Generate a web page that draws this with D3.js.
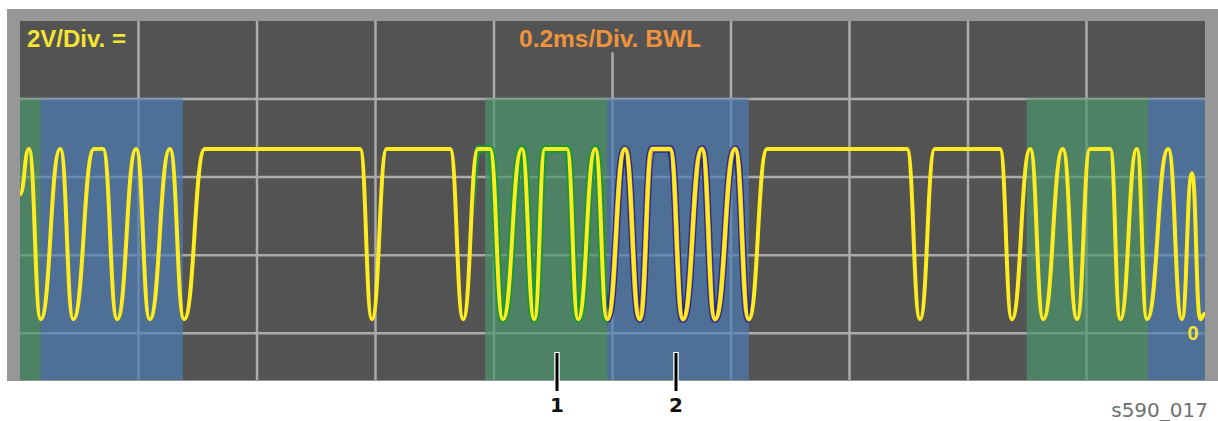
<!DOCTYPE html>
<html>
<head>
<meta charset="utf-8">
<script src="https://cdn.jsdelivr.net/npm/d3@7"></script>
<style>
  body { margin: 0; background: #fff; }
  svg { display: block; }
</style>
</head>
<body>
<svg id="scope" width="1218" height="421"></svg>
<script>
// signal key points, time in ms and level in volts (2V/Div, 0.2ms/Div)
var times = [0, 0.015, 0.035, 0.068, 0.090, 0.125, 0.140, 0.164, 0.196, 0.219,
  0.253, 0.277, 0.312, 0.574, 0.594, 0.619, 0.726, 0.748, 0.773, 0.793,
  0.815, 0.847, 0.868, 0.886, 0.923, 0.942, 0.971, 0.991, 1.021, 1.046,
  1.067, 1.097, 1.119, 1.151, 1.173, 1.207, 1.230, 1.261, 1.497, 1.519,
  1.544, 1.654, 1.674, 1.705, 1.727, 1.760, 1.784, 1.806, 1.840, 1.857,
  1.885, 1.902, 1.938, 1.961, 1.978, 1.992, 2.0]
var volts = [3.56, 4.72, 0.36, 4.72, 0.36, 4.72, 4.72, 0.36, 4.72, 0.36,
  4.72, 0.36, 4.72, 4.72, 0.36, 4.72, 4.72, 0.36, 4.72, 4.72,
  0.36, 4.72, 0.36, 4.72, 4.72, 0.36, 4.72, 0.36, 4.72, 0.36,
  4.72, 4.72, 0.36, 4.72, 0.36, 4.72, 0.36, 4.72, 4.72, 0.36,
  4.72, 4.72, 0.36, 4.72, 0.36, 4.72, 0.36, 4.72, 4.72, 0.36,
  4.72, 0.36, 4.72, 0.36, 4.1, 0.36, 0.5]

// coloured background bands (ms)
var bandStarts = [0, 0.035, 0.785, 0.991, 1.699, 1.904]
var bandEnds = [0.035, 0.275, 0.991, 1.230, 1.904, 2.0]
var bandKinds = ['green', 'blue', 'green', 'blue', 'green', 'blue']

// highlighted parts of the trace (ms)
var markStarts = [0.768, 0.991]
var markEnds = [0.991, 1.234]
var markKinds = ['green', 'blue']

// numbered callouts
var calloutLabels = ['1', '2']
var calloutTimes = [0.906, 1.108]

var timeTicks = [0.2, 0.4, 0.6, 0.8, 1.0, 1.2, 1.4, 1.6, 1.8]
var voltTicks = [0, 2, 4, 6]

var svg = d3.select('#scope')

var x = d3.scaleLinear().domain([0, 2]).range([20, 1205])
var y = d3.scaleLinear().domain([-1.2, 8]).range([380, 21])

var bandFill = { green: 'rgb(76,153,108)', blue: 'rgb(79,125,179)' }
var markColor = { green: '#17983a', blue: '#252d88' }

// frame and screen
svg.append('rect').attr('x', 7).attr('y', 9).attr('width', 1211).attr('height', 372).style('fill', '#979797')
svg.append('rect').attr('x', x(0)).attr('y', y(8))
  .attr('width', x(2) - x(0)).attr('height', y(-1.2) - y(8))
  .style('fill', '#535353')

// grid
svg.selectAll('.vgrid')
  .data(timeTicks)
  .enter()
  .append('line')
  .attr('class', 'vgrid')
  .attr('x1', function(d){ return x(d) })
  .attr('x2', function(d){ return x(d) })
  .attr('y1', function(d){ return d == 1.0 ? y(7.2) : y(8) })
  .attr('y2', y(-1.2))
  .style('stroke', '#ababab')
  .style('stroke-width', 2.5)

svg.selectAll('.hgrid')
  .data(voltTicks)
  .enter()
  .append('line')
  .attr('class', 'hgrid')
  .attr('x1', x(0))
  .attr('x2', x(2))
  .attr('y1', function(d){ return y(d) })
  .attr('y2', function(d){ return y(d) })
  .style('stroke', '#ababab')
  .style('stroke-width', 2.5)

// bands over the grid, a bit see-through so grid lines get tinted
svg.selectAll('.band')
  .data(bandStarts)
  .enter()
  .append('rect')
  .attr('class', 'band')
  .attr('x', function(d){ return x(d) })
  .attr('width', function(d, i){ return x(bandEnds[i]) - x(d) })
  .attr('y', y(6) - 0.5)
  .attr('height', y(-1.2) - y(6) + 0.5)
  .style('fill', function(d, i){ return bandFill[bandKinds[i]] })
  .style('opacity', 0.7)

// header texts
svg.append('text')
  .attr('x', 27).attr('y', 47)
  .text('2V/Div. =')
  .style('font-family', 'Liberation Sans, Arial, sans-serif')
  .style('font-weight', 'bold')
  .style('font-size', '24px')
  .style('fill', '#f4e532')

svg.append('text')
  .attr('x', 519).attr('y', 47)
  .text('0.2ms/Div. BWL')
  .style('font-family', 'Liberation Sans, Arial, sans-serif')
  .style('font-weight', 'bold')
  .style('font-size', '24.5px')
  .style('fill', '#f0933a')

// the trace
var points = times.map(function(t, i){ return [t, volts[i]] })
var line = d3.line()
  .x(function(d){ return x(d[0]) })
  .y(function(d){ return y(d[1]) })
  .curve(d3.curveBumpX)

var defs = svg.append('defs')
defs.append('clipPath').attr('id', 'screen')
  .append('rect').attr('x', x(0)).attr('y', y(8))
  .attr('width', x(2) - x(0)).attr('height', y(-1.2) - y(8))

markStarts.forEach(function(s, i){
  defs.append('clipPath').attr('id', 'mark' + i)
    .append('rect').attr('x', x(s)).attr('y', 0)
    .attr('width', x(markEnds[i]) - x(s)).attr('height', 421)
  svg.append('path')
    .attr('d', line(points))
    .attr('clip-path', 'url(#mark' + i + ')')
    .style('fill', 'none')
    .style('stroke', markColor[markKinds[i]])
    .style('stroke-width', 7.5)
  if (markKinds[i] == 'blue') {
    svg.append('path')
      .attr('d', line(points))
      .attr('clip-path', 'url(#mark' + i + ')')
      .style('fill', 'none')
      .style('stroke', '#d9856a')
      .style('stroke-width', 5)
  }
})

svg.append('path')
  .attr('d', line(points))
  .attr('clip-path', 'url(#screen)')
  .style('fill', 'none')
  .style('stroke', '#ffec1e')
  .style('stroke-width', 4)

// ground marker
svg.append('text')
  .attr('x', 1193).attr('y', y(0) + 7)
  .attr('text-anchor', 'middle')
  .text('0')
  .style('font-family', 'Liberation Sans, Arial, sans-serif')
  .style('font-weight', 'bold')
  .style('font-size', '20px')
  .style('fill', '#f4e532')

// callouts
var c = svg.selectAll('.callout')
  .data(calloutTimes)
  .enter()
  .append('g')
  .attr('class', 'callout')
  .attr('transform', function(d){ return 'translate(' + Math.round(x(d)) + ',0)' })

c.append('line')
  .attr('y1', 352).attr('y2', 391)
  .style('stroke', '#fff')
  .style('stroke-width', 5.5)
c.append('line')
  .attr('y1', 353).attr('y2', 391)
  .style('stroke', '#000')
  .style('stroke-width', 3)
c.append('text')
  .attr('y', 412)
  .attr('text-anchor', 'middle')
  .text(function(d, i){ return calloutLabels[i] })
  .style('font-family', 'DejaVu Sans, Verdana, sans-serif')
  .style('font-weight', 'bold')
  .style('font-size', '20px')
  .style('fill', '#111')

svg.append('text')
  .attr('x', 1208).attr('y', 417)
  .attr('text-anchor', 'end')
  .text('s590_017')
  .style('font-family', 'DejaVu Sans, sans-serif')
  .style('font-size', '20px')
  .style('fill', '#707070')
</script>
</body>
</html>
